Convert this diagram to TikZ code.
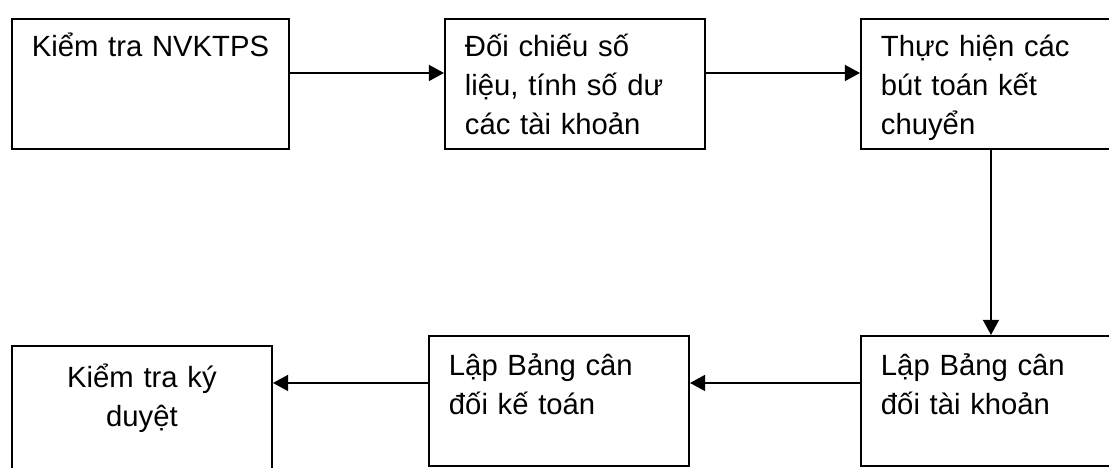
\documentclass[tikz,border=0pt]{standalone}
\usepackage{fontspec}
\setmainfont{Liberation Sans}
\usetikzlibrary{arrows.meta}
\tikzset{
    block/.style={draw, rectangle, line width=1.4pt, anchor=north west, minimum width=6.5cm, text width=5.5cm, inner xsep=0.5cm, inner ysep=0pt, text height=0.95cm, text depth=2.3cm, align=left, font=\fontsize{20.8}{27.4}\selectfont},
    arr/.style={-{Triangle[length=0.38cm, width=0.4cm]}, line width=1.4pt}
}

\begin{document}
\begin{tikzpicture}
        \useasboundingbox (0,0) rectangle (27.725,-11.7);

        % Top row
        \node [block, minimum width=6.925cm, text width=6.725cm, inner xsep=0.1cm, align=center] (kiemtra) at (0.275,-0.45) {Kiểm tra NVKTPS};
        \node [block] (doichieu) at (11.1,-0.45) {Đối chiếu số\\liệu, tính số dư\\các tài khoản};
        \node [block] (thuchien) at (21.5,-0.45) {Thực hiện các\\bút toán kết\\chuyển};

        % Bottom row
        \node [block, text height=1cm, text depth=2.25cm] (lapcdtk) at (21.5,-8.375) {Lập Bảng cân\\đối tài khoản};
        \node [block, text height=1cm, text depth=2.25cm] (lapcdkt) at (10.7,-8.375) {Lập Bảng cân\\đối kế toán};
        \node [block, text height=1.05cm, text depth=2.2cm, align=center] (kyduyet) at (0.275,-8.625) {Kiểm tra ký\\duyệt};

        % Arrows
        \draw [arr] ([yshift=0.275cm]kiemtra.east) -- ([yshift=0.275cm]doichieu.west);
        \draw [arr] ([yshift=0.275cm]doichieu.east) -- ([yshift=0.275cm]thuchien.west);
        \draw [arr] (thuchien.south) -- (lapcdtk.north);
        \draw [arr] ([yshift=0.45cm]lapcdtk.west) -- ([yshift=0.45cm]lapcdtk.west -| lapcdkt.east);
        \draw [arr] ([yshift=0.45cm]lapcdkt.west) -- ([yshift=0.45cm]lapcdkt.west -| kyduyet.east);
    \end{tikzpicture}
\end{document}
